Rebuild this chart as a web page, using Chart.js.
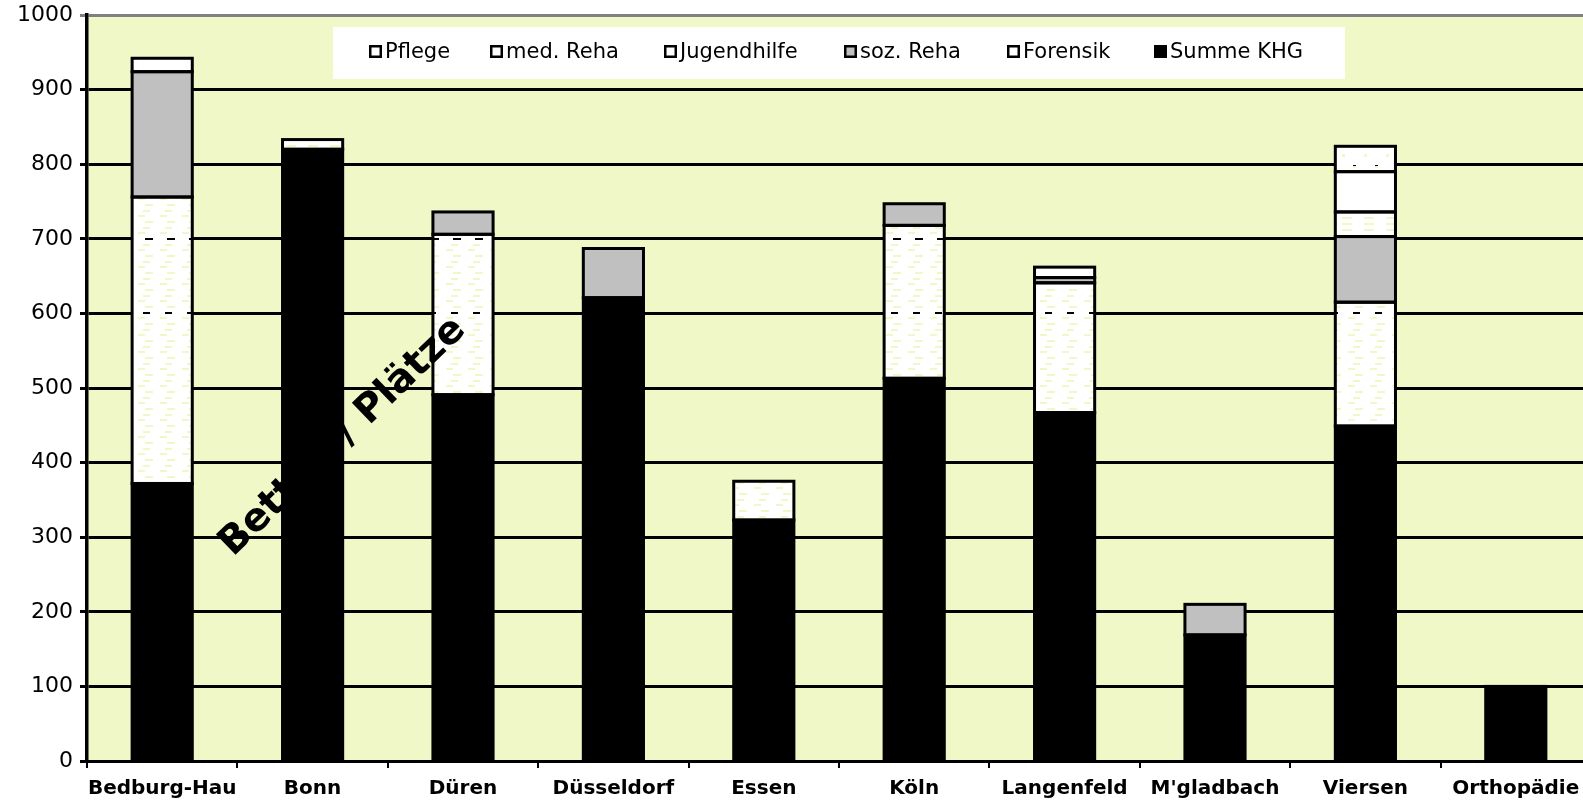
<!DOCTYPE html>
<html lang="de">
<head>
<meta charset="utf-8">
<title>Betten / Plätze</title>
<script src="https://cdn.jsdelivr.net/npm/chart.js@4/dist/chart.umd.min.js"></script>
<style>
  html, body { margin: 0; padding: 0; background: #fff; overflow: hidden; }
  #wrap { width: 1600px; height: 800px; }
</style>
</head>
<body>
<div id="wrap"><canvas id="bettenChart" width="1600" height="800"></canvas></div>
<script>
// Standorte
const categories = ['Bedburg-Hau', 'Bonn', 'Düren', 'Düsseldorf', 'Essen', 'Köln', 'Langenfeld', "M'gladbach", 'Viersen', 'Orthopädie'];

// Betten / Plätze je Bereich (null = kein Angebot)
const summeKHG    = [372, 820, 491, 621, 323, 513, 467, 169, 449, 100];
const forensik    = [384, null, 215, null, 52, 205, 174, null, 166, null];
const sozReha     = [168, null, 30, 66, null, 29, 7, 41, 88, null];
const jugendhilfe = [null, 13, null, null, null, null, null, null, 33, null];
const medReha     = [18, null, null, null, null, null, 14, null, 54, null];
const pflege      = [null, null, null, null, null, null, null, null, 34, null];

const yTicks = [0, 100, 200, 300, 400, 500, 600, 700, 800, 900, 1000];

// weisse Flaeche mit Loechern, durch die der Hintergrund durchscheint
function makePattern(w, h, holes) {
    const c = document.createElement('canvas');
    c.width = w;
    c.height = h;
    const g = c.getContext('2d');
    g.fillStyle = '#ffffff';
    g.fillRect(0, 0, w, h);
    holes.forEach(([x, y, hw, hh]) => g.clearRect(x, y, hw, hh));
    return g.createPattern(c, 'repeat');
}

const forensikFill = makePattern(22, 17, [[13, 0, 8, 2], [11, 6, 7, 2], [6, 11, 7, 2]]);
const jugendFill = makePattern(22, 6, [[0, 1, 10, 2]]);
const pflegeFill = makePattern(22, 22, [[0, 0, 3, 3], [11, 11, 3, 3]]);

// Reihenfolge = Stapel von unten nach oben
const datasets = [
    { label: 'Summe KHG', data: summeKHG, backgroundColor: '#000000', legendColor: '#000000' },
    { label: 'Forensik', data: forensik, backgroundColor: forensikFill, legendColor: '#ffffff' },
    { label: 'soz. Reha', data: sozReha, backgroundColor: '#c0c0c0', legendColor: '#c0c0c0' },
    { label: 'Jugendhilfe', data: jugendhilfe, backgroundColor: jugendFill, legendColor: '#ffffff' },
    { label: 'med. Reha', data: medReha, backgroundColor: '#ffffff', legendColor: '#ffffff' },
    { label: 'Pflege', data: pflege, backgroundColor: pflegeFill, legendColor: '#ffffff' }
];

// hellgelbe Zeichenflaeche
const plotBackground = {
    id: 'plotBackground',
    beforeDraw(chart) {
        const { ctx, chartArea: a } = chart;
        ctx.save();
        ctx.fillStyle = '#f1f8c7';
        ctx.fillRect(a.left, a.top, a.right - a.left, a.bottom - a.top);
        ctx.restore();
    }
};

// schwarzer Rahmen um jedes Segment, mittig auf der Kante (wie in Excel)
const segmentOutline = {
    id: 'segmentOutline',
    afterDatasetsDraw(chart) {
        const ctx = chart.ctx;
        ctx.save();
        ctx.strokeStyle = '#000';
        ctx.lineWidth = 3;
        ctx.lineJoin = 'miter';
        chart.data.datasets.forEach((ds, i) => {
            chart.getDatasetMeta(i).data.forEach((bar, j) => {
                if (ds.data[j] === null) return;
                const p = bar.getProps(['x', 'y', 'base', 'width'], true);
                ctx.strokeRect(p.x - p.width / 2, Math.min(p.y, p.base), p.width, Math.abs(p.base - p.y));
            });
        });
        ctx.restore();
    }
};

// schraeg gestellte Achsenbeschriftung
const axisTitle = {
    id: 'axisTitle',
    afterDatasetsDraw(chart) {
        const ctx = chart.ctx;
        ctx.save();
        ctx.translate(343, 437);
        ctx.rotate(-44 * Math.PI / 180);
        ctx.font = 'bold 39px "DejaVu Sans"';
        ctx.textAlign = 'center';
        ctx.textBaseline = 'middle';
        ctx.fillStyle = '#000';
        ctx.fillText('Betten / Plätze', 0, 0);
        ctx.restore();
    }
};

// Legende im weissen Kasten, obere Reihe der Grafik
const boxLegend = {
    id: 'boxLegend',
    afterDraw(chart) {
        const ctx = chart.ctx;
        const items = chart.data.datasets.slice().reverse();
        const xs = [369, 490, 664, 844, 1007, 1154];
        ctx.save();
        ctx.fillStyle = '#ffffff';
        ctx.fillRect(333, 27, 1012, 52);
        ctx.font = '21px "DejaVu Sans"';
        ctx.textBaseline = 'middle';
        items.forEach((ds, i) => {
            ctx.fillStyle = ds.legendColor;
            ctx.fillRect(xs[i], 45, 13, 13);
            ctx.strokeStyle = '#000';
            ctx.lineWidth = 2.5;
            ctx.strokeRect(xs[i] + 1.25, 46.25, 10.5, 10.5);
            ctx.fillStyle = '#000';
            ctx.fillText(ds.label, xs[i] + 16, 53);
        });
        ctx.restore();
    }
};

new Chart(document.getElementById('bettenChart').getContext('2d'), {
    type: 'bar',
    data: { labels: categories, datasets: datasets },
    plugins: [plotBackground, segmentOutline, axisTitle, boxLegend],
    options: {
        responsive: false,
        animation: false,
        layout: { padding: { top: 15, right: 9, left: 0, bottom: 0 } },
        plugins: { legend: { display: false }, tooltip: { enabled: false } },
        datasets: {
            bar: {
                barPercentage: 0.4,
                categoryPercentage: 1,
                borderWidth: 0
            }
        },
        scales: {
            x: {
                stacked: true,
                grid: { drawOnChartArea: false, drawTicks: true, tickLength: 7, color: '#000', lineWidth: 2, offset: true },
                border: { color: '#000', width: 3 },
                ticks: { color: '#000', font: { family: 'DejaVu Sans', size: 20, weight: 'bold' }, padding: 9, maxRotation: 0, autoSkip: false },
                afterFit: s => { s.height = 39; s.paddingLeft = 0; s.paddingRight = 0; }
            },
            y: {
                stacked: true,
                min: 0,
                max: 1000,
                afterBuildTicks: s => { s.ticks = yTicks.map(v => ({ value: v })); },
                ticks: { color: '#000', font: { family: 'DejaVu Sans', size: 22 }, padding: 7, callback: v => String(v) },
                grid: {
                    color: c => (c.tick && c.tick.value === 1000 ? '#808080' : '#000'),
                    lineWidth: 3,
                    tickLength: 7
                },
                border: { color: '#000', width: 3.5 },
                afterFit: s => { s.width = 87; s.paddingTop = 0; s.paddingBottom = 0; }
            }
        }
    }
});
</script>
</body>
</html>
